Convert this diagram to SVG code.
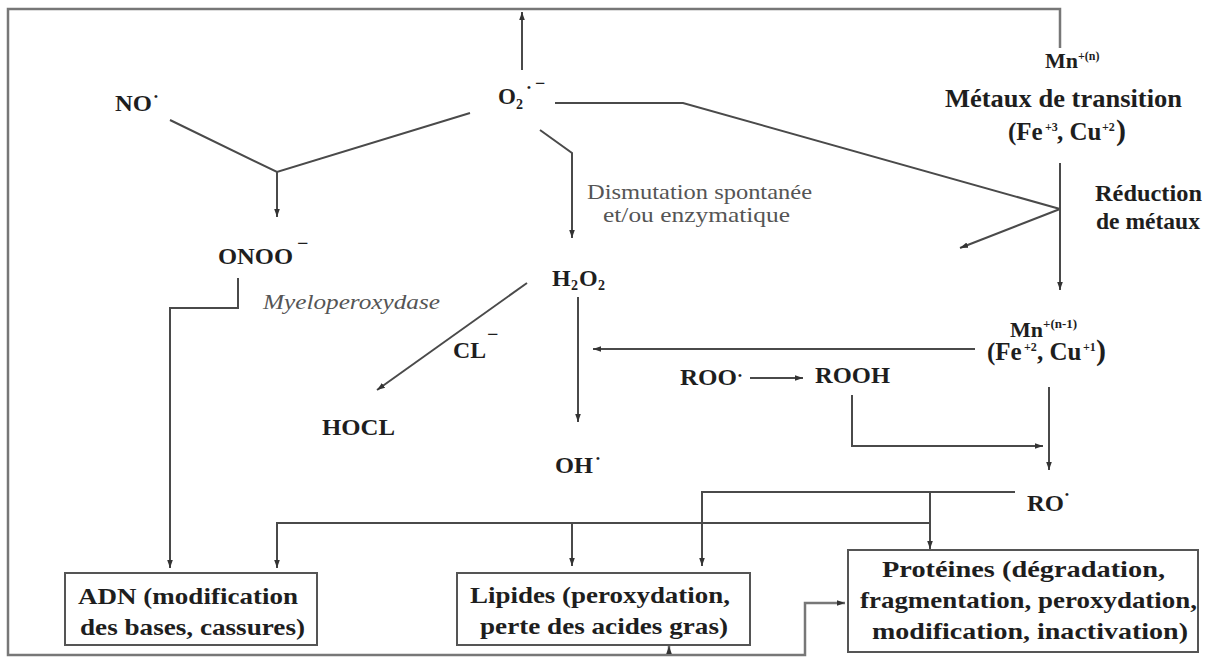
<svg xmlns="http://www.w3.org/2000/svg" width="1218" height="657" viewBox="0 0 1218 657">
<style>
.b{font-family:"Liberation Serif","Times New Roman",serif;font-weight:bold;fill:#1e1e1e;font-size:23px}
.g{font-family:"Liberation Serif","Times New Roman",serif;fill:#555;font-size:22px}
.i{font-family:"Liberation Serif","Times New Roman",serif;font-style:italic;fill:#555;font-size:22px}
.sup{font-size:12px}
.dot{font-size:11px}
.ln{fill:none;stroke:#4a4a4a;stroke-width:2}
.fr{fill:none;stroke:#777;stroke-width:2.5}
.box{fill:#fff;stroke:#555;stroke-width:2}
</style>
<defs>
<marker id="ah" markerUnits="userSpaceOnUse" markerWidth="8" markerHeight="8" viewBox="0 0 10 10" refX="10" refY="5" orient="auto">
<path d="M0,1.5 L10,5 L0,8.5 z" fill="#333"/>
</marker>
</defs>
<rect width="1218" height="657" fill="#fff"/>
<g id="connectors">
<path class="fr" d="M1060,48 V9 H8 V655 H805 V603 H845" marker-end="url(#ah)"/>
<path class="fr" d="M669,655 V646" marker-end="url(#ah)"/>
<path class="ln" d="M522,70 V12" marker-end="url(#ah)"/>
<path class="ln" d="M170,120 L277,172 L470,113"/>
<path class="ln" d="M277,172 V217" marker-end="url(#ah)"/>
<path class="ln" d="M555,103 H683 L1060,209"/>
<path class="ln" d="M1060,209 L960,248" marker-end="url(#ah)"/>
<path class="ln" d="M540,130 L572,153 V238" marker-end="url(#ah)"/>
<path class="ln" d="M1060,163 V290" marker-end="url(#ah)"/>
<path class="ln" d="M238,278 V308 H170 V568" marker-end="url(#ah)"/>
<path class="ln" d="M527,283 L377,390" marker-end="url(#ah)"/>
<path class="ln" d="M578,297 V422" marker-end="url(#ah)"/>
<path class="ln" d="M975,349 H593" marker-end="url(#ah)"/>
<path class="ln" d="M750,378 H803" marker-end="url(#ah)"/>
<path class="ln" d="M1049,387 V470" marker-end="url(#ah)"/>
<path class="ln" d="M852,395 V446 H1043" marker-end="url(#ah)"/>
<path class="ln" d="M1015,492 H702 V566" marker-end="url(#ah)"/>
<path class="ln" d="M930,492 V549" marker-end="url(#ah)"/>
<path class="ln" d="M930,523 H277 V568" marker-end="url(#ah)"/>
<path class="ln" d="M572,523 V566" marker-end="url(#ah)"/>
</g>
<g id="node-no">
<text class="b" x="115" y="111" textLength="37" lengthAdjust="spacingAndGlyphs">NO</text>
<text class="b dot" x="154" y="100">•</text>
</g>
<g id="node-onoo">
<text class="b" x="218" y="264" textLength="75" lengthAdjust="spacingAndGlyphs">ONOO</text>
<text class="b" x="297" y="250" style="font-size:20px">−</text>
</g>
<g id="node-o2">
<text class="b" x="498" y="104" style="font-size:23px">O<tspan style="font-size:14px" dy="5">2</tspan></text>
<text class="b dot" x="527" y="91">•</text>
<text class="b" x="535" y="89" style="font-size:18px">−</text>
</g>
<g id="node-metaux">
<text class="b" x="1045" y="68" style="font-size:22px">Mn<tspan class="sup" dy="-8">+(n)</tspan></text>
<text class="b" x="945" y="107" style="font-size:25px" textLength="237" lengthAdjust="spacingAndGlyphs">Métaux de transition</text>
<text class="b" y="140" style="font-size:25px"><tspan x="1008">(Fe</tspan><tspan class="sup" x="1045" dy="-9">+3</tspan><tspan x="1057" dy="9">, Cu</tspan><tspan class="sup" x="1102" dy="-9">+2</tspan><tspan x="1116" dy="9" style="font-size:30px">)</tspan></text>
</g>
<g id="label-reduction">
<text class="b" x="1095" y="201" textLength="107" lengthAdjust="spacingAndGlyphs">Réduction</text>
<text class="b" x="1096" y="229" textLength="104" lengthAdjust="spacingAndGlyphs">de métaux</text>
</g>
<g id="label-dismutation">
<text class="g" x="587" y="199" textLength="225" lengthAdjust="spacingAndGlyphs">Dismutation spontanée</text>
<text class="g" x="603" y="222" textLength="187" lengthAdjust="spacingAndGlyphs">et/ou enzymatique</text>
</g>
<g id="label-myelo">
<text class="i" x="263" y="309" textLength="177" lengthAdjust="spacingAndGlyphs">Myeloperoxydase</text>
</g>
<g id="node-h2o2">
<text class="b" y="286" style="font-size:24px"><tspan x="552">H</tspan><tspan x="571" dy="4" style="font-size:14px">2</tspan><tspan x="579" dy="-4">O</tspan><tspan x="598" dy="4" style="font-size:14px">2</tspan></text>
</g>
<g id="label-cl">
<text class="b" x="453" y="358" textLength="33" lengthAdjust="spacingAndGlyphs">CL</text>
<text class="b" x="487" y="341" style="font-size:20px">−</text>
</g>
<g id="node-hocl">
<text class="b" x="322" y="435" textLength="73" lengthAdjust="spacingAndGlyphs">HOCL</text>
</g>
<g id="node-oh">
<text class="b" x="555" y="473" textLength="38" lengthAdjust="spacingAndGlyphs">OH</text>
<text class="b dot" x="596" y="462">•</text>
</g>
<g id="node-roo">
<text class="b" x="680" y="385" textLength="57" lengthAdjust="spacingAndGlyphs">ROO</text>
<text class="b dot" x="738" y="379">•</text>
</g>
<g id="node-rooh">
<text class="b" x="815" y="383" textLength="75" lengthAdjust="spacingAndGlyphs">ROOH</text>
</g>
<g id="node-mn-reduit">
<text class="b" x="1010" y="337" style="font-size:22px">Mn<tspan class="sup" style="font-size:13px" dy="-9">+(n-1)</tspan></text>
<text class="b" y="360" style="font-size:25px"><tspan x="987">(Fe</tspan><tspan class="sup" x="1024" dy="-9">+2</tspan><tspan x="1037" dy="9">, Cu</tspan><tspan class="sup" x="1083" dy="-9">+1</tspan><tspan x="1096" dy="9" style="font-size:30px">)</tspan></text>
</g>
<g id="node-ro">
<text class="b" x="1027" y="511" textLength="37" lengthAdjust="spacingAndGlyphs">RO</text>
<text class="b dot" x="1065" y="498">•</text>
</g>
<g id="node-adn">
<rect class="box" x="65" y="573" width="252" height="72"/>
<text class="b" x="78" y="604" textLength="220" lengthAdjust="spacingAndGlyphs">ADN (modification</text>
<text class="b" x="80" y="635" textLength="225" lengthAdjust="spacingAndGlyphs">des bases, cassures)</text>
</g>
<g id="node-lipides">
<rect class="box" x="457" y="573" width="293" height="72"/>
<text class="b" x="470" y="603" textLength="260" lengthAdjust="spacingAndGlyphs">Lipides (peroxydation,</text>
<text class="b" x="480" y="634" textLength="248" lengthAdjust="spacingAndGlyphs">perte des acides gras)</text>
</g>
<g id="node-proteines">
<rect class="box" x="848" y="550" width="350" height="102"/>
<text class="b" x="882" y="577" textLength="283" lengthAdjust="spacingAndGlyphs">Protéines (dégradation,</text>
<text class="b" x="860" y="608" textLength="337" lengthAdjust="spacingAndGlyphs">fragmentation, peroxydation,</text>
<text class="b" x="872" y="639" textLength="316" lengthAdjust="spacingAndGlyphs">modification, inactivation)</text>
</g>
</svg>
